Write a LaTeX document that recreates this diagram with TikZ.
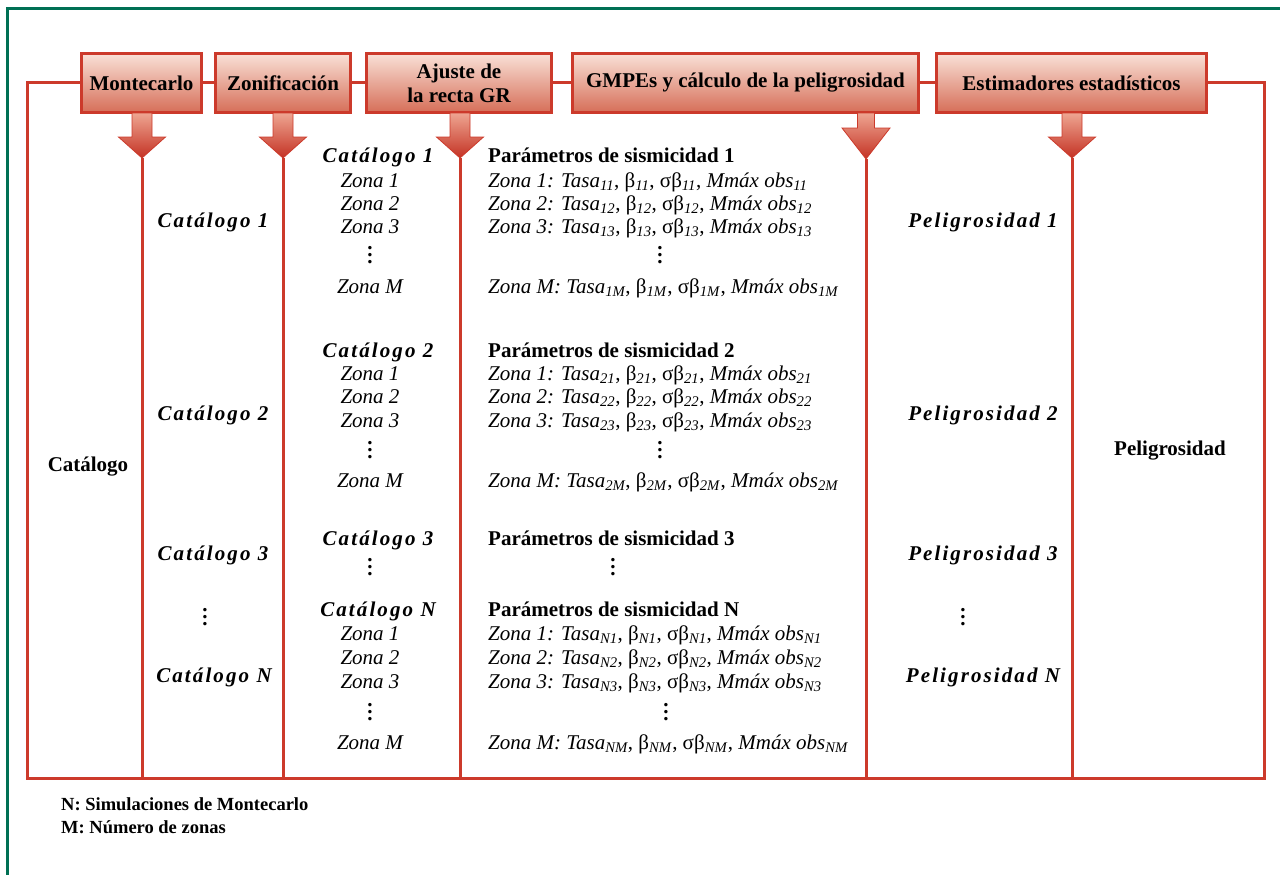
\documentclass[tikz,border=0pt]{standalone}
\usepackage{fontspec}
\setmainfont{Liberation Serif}
\newfontfamily\spacedfont[LetterSpace=10]{Liberation Serif}
\usetikzlibrary{calc}
\definecolor{redline}{RGB}{204,58,43}
\definecolor{greenline}{RGB}{0,112,84}
\definecolor{hdtop}{RGB}{249,225,215}
\definecolor{hdbot}{RGB}{214,110,88}
\definecolor{artop}{RGB}{238,165,145}
\definecolor{arbot}{RGB}{196,50,36}
\newcommand\zl[2]{\textit{Zona #1: Tasa\textsubscript{#2}}, β\textsubscript{\textit{#2}}, σβ\textsubscript{\textit{#2}}, \textit{Mmáx obs\textsubscript{#2}}}
\newcommand\vd{\vbox{\baselineskip7pt\lineskiplimit0pt\hbox{\bfseries .}\hbox{\bfseries .}\hbox{\bfseries .}}}
\newcommand\blockarrow[5]{% node, tip, shoulder height, shaft half, head half
  \path[barr] let \p1=(#2), \p2=(#1.south) in
    (\x1-#4,\y2+1) -- (\x1+#4,\y2+1) -- (\x1+#4,\y1+#3) -- (\x1+#5,\y1+#3)
    -- (\x1,\y1) -- (\x1-#5,\y1+#3) -- (\x1-#4,\y1+#3) -- cycle;}
\begin{document}
\begin{tikzpicture}[x=1pt,y=-1pt,
  font=\fontsize{21}{25}\selectfont,
  hdr/.style={draw=redline, line width=3pt, top color=hdtop, bottom color=hdbot,
    font=\fontsize{21}{25}\selectfont\bfseries, align=center, inner sep=0pt, minimum height=59pt},
  redl/.style={draw=redline, line width=3pt},
  barr/.style={draw=redline, line width=0.8pt, top color=artop, bottom color=arbot},
  cat/.style={font=\fontsize{21}{25}\selectfont\spacedfont\bfseries\itshape, inner sep=0pt, anchor=base},
  zn/.style={font=\fontsize{21}{25}\selectfont\itshape, inner sep=0pt, anchor=base},
  par/.style={font=\fontsize{21}{25}\selectfont\bfseries, inner sep=0pt, anchor=base west},
  pl/.style={inner sep=0pt, anchor=base west},
  dots/.style={inner sep=0pt},
  bold/.style={font=\fontsize{21}{25}\selectfont\bfseries, inner sep=0pt, anchor=base},
  note/.style={font=\fontsize{18.5}{23}\selectfont\bfseries, inner sep=0pt, anchor=base west}]
\useasboundingbox (0,0) rectangle (1280,875);
\fill[white] (0,0) rectangle (1280,875);
% green border
\draw[greenline, line width=3pt] (7,875) -- (7,9) -- (1280,9);

% headers
\node[hdr, minimum width=120pt] (mc) at (141.5,83) {Montecarlo};
\node[hdr, minimum width=135pt] (zo) at (283,83) {Zonificación};
\node[hdr, minimum width=185pt] (aj) at (459,83) {Ajuste de\\[-1pt]la recta GR};
\node[hdr, minimum width=346pt] (gm) at (745.5,83) {GMPEs y cálculo de la peligrosidad};
\node[hdr, minimum width=270pt] (es) at (1071.5,83) {Estimadores estadísticos};

% frame corners
\coordinate (BL) at (27,778);
\coordinate (BR) at (1264,778);
\coordinate (t1) at (142,158);
\coordinate (t2) at (283,158);
\coordinate (t3) at (460,158);
\coordinate (t4) at (866,159);
\coordinate (t5) at (1072,158);

\draw[redl] (mc.west) -| (BL) -- (BR) |- (es.east);
\draw[redl] (mc.east) -- (zo.west);
\draw[redl] (zo.east) -- (aj.west);
\draw[redl] (aj.east) -- (gm.west);
\draw[redl] (gm.east) -- (es.west);
\foreach \t in {t1,t2,t3,t4,t5} \draw[redl] (\t) -- (\t |- BL);

% block arrows
\blockarrow{mc}{t1}{21}{10}{23.5}
\blockarrow{zo}{t2}{21}{10}{23.5}
\blockarrow{aj}{t3}{21}{10}{23.5}
\blockarrow{gm}{t4}{31}{8.5}{24}
\blockarrow{es}{t5}{21}{10}{23.5}

% column 1
\node[bold] (c1) at (88,471) {Catálogo};
% column 2
\node[cat] (k1) at (213,227) {Catálogo 1};
\node[cat] (k2) at (213,420) {Catálogo 2};
\node[cat] (k3) at (213,560) {Catálogo 3};
\node[dots] (kd) at (205,617) {\vd};
\node[cat] (kn) at (214,682) {Catálogo N};
% column 3
\node[cat] (a1) at (378,162) {Catálogo 1};
\node[zn] (a1z1) at (370,187) {Zona 1};
\node[zn] (a1z2) at (370,210) {Zona 2};
\node[zn] (a1z3) at (370,233) {Zona 3};
\node[dots] (a1d) at (370,255) {\vd};
\node[zn] (a1zm) at (370,293) {Zona M};
\node[cat] (a2) at (378,357) {Catálogo 2};
\node[zn] (a2z1) at (370,380) {Zona 1};
\node[zn] (a2z2) at (370,403) {Zona 2};
\node[zn] (a2z3) at (370,427) {Zona 3};
\node[dots] (a2d) at (370,450) {\vd};
\node[zn] (a2zm) at (370,487) {Zona M};
\node[cat] (a3) at (378,545) {Catálogo 3};
\node[dots] (a3d) at (370,567) {\vd};
\node[cat] (an) at (378,616) {Catálogo N};
\node[zn] (anz1) at (370,640) {Zona 1};
\node[zn] (anz2) at (370,664) {Zona 2};
\node[zn] (anz3) at (370,688) {Zona 3};
\node[dots] (and) at (370,712) {\vd};
\node[zn] (anzm) at (370,749) {Zona M};
% column 4
\node[par] (p1) at (488,162) {Parámetros de sismicidad 1};
\node[pl] (p1z1) at (488,187) {\zl{1}{11}};
\node[pl] (p1z2) at (488,210) {\zl{2}{12}};
\node[pl] (p1z3) at (488,233) {\zl{3}{13}};
\node[dots] (p1d) at (660,255) {\vd};
\node[pl] (p1zm) at (488,293) {\zl{M}{1M}};
\node[par] (p2) at (488,357) {Parámetros de sismicidad 2};
\node[pl] (p2z1) at (488,380) {\zl{1}{21}};
\node[pl] (p2z2) at (488,403) {\zl{2}{22}};
\node[pl] (p2z3) at (488,427) {\zl{3}{23}};
\node[dots] (p2d) at (660,450) {\vd};
\node[pl] (p2zm) at (488,487) {\zl{M}{2M}};
\node[par] (p3) at (488,545) {Parámetros de sismicidad 3};
\node[dots] (p3d) at (613,567) {\vd};
\node[par] (pn) at (488,616) {Parámetros de sismicidad N};
\node[pl] (pnz1) at (488,640) {\zl{1}{N1}};
\node[pl] (pnz2) at (488,664) {\zl{2}{N2}};
\node[pl] (pnz3) at (488,688) {\zl{3}{N3}};
\node[dots] (pnd) at (666,712) {\vd};
\node[pl] (pnzm) at (488,749) {\zl{M}{NM}};
% column 5
\node[cat] (h1) at (983,227) {Peligrosidad 1};
\node[cat] (h2) at (983,420) {Peligrosidad 2};
\node[cat] (h3) at (983,560) {Peligrosidad 3};
\node[dots] (hd) at (963,617) {\vd};
\node[cat] (hn) at (983,682) {Peligrosidad N};
% column 6
\node[bold] (pg) at (1170,455) {Peligrosidad};
% notes
\node[note] (n1) at (61,810) {N: Simulaciones de Montecarlo};
\node[note] (n2) at (61,833) {M: Número de zonas};
\end{tikzpicture}
\end{document}
